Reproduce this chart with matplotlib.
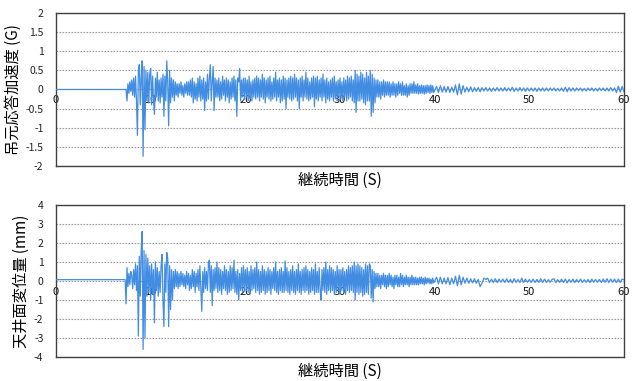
import numpy as np
import matplotlib
matplotlib.use("Agg")
import matplotlib.pyplot as plt

plt.rcParams['font.family'] = ['Noto Sans CJK JP', 'DejaVu Sans']

# --- data ---
quiet_t = [0.0, 7.3]
acc_quiet = [0.0, 0.0]
disp_quiet = [0.07, 0.07]

# 7.4 .. 39.9 s, every 0.1 s (one row per second)
acc_main = [
    0, -0.3, 0.15, -0.1, 0.2, -0.05,
    0.25, -0.15, 0.3, -0.2, 0.35, -0.3, -1.2, 0.5, 0.65, -0.4,
    0.3, 0.75, -1.75, 0.6, -1.05, 0.5, -0.3, 0.45, -0.35, 0.4,
    0.55, -0.4, 0.35, -0.3, -0.65, 0.3, -0.2, 0.45, -0.3, 0.25,
    -0.35, 0.3, -0.2, 0.4, -0.7, 0.35, -0.3, 0.75, 0.2, -0.95,
    0.5, -0.35, 0.3, -0.2, 0.25, -0.3, 0.2, -0.15, 0.15, -0.2,
    0.15, -0.1, 0.2, -0.15, 0.1, -0.2, 0.15, -0.1, 0.2, -0.15,
    0.2, -0.15, 0.25, -0.2, 0.3, -0.35, 0.2, -0.25, 0.15, -0.3,
    0.3, -0.2, 0.35, -0.3, 0.25, -0.25, 0.3, -0.55, 0.2, -0.3,
    0.4, -0.25, 0.3, 0.65, -0.3, 0.2, 0.6, -0.55, 0.3, -0.2,
    0.25, -0.2, 0.3, -0.3, 0.2, -0.25, 0.35, -0.15, 0.25, -0.3,
    0.3, -0.2, 0.25, -0.35, 0.2, -0.25, 0.3, -0.2, 0.35, -0.3,
    0.25, -0.7, 0.3, 0.2, 0.55, -0.3, 0.25, -0.2, 0.3, -0.25,
    0.3, -0.2, 0.25, -0.3, 0.35, -0.25, 0.2, -0.3, 0.25, -0.2,
    0.3, -0.25, 0.35, -0.2, 0.3, -0.3, 0.25, -0.2, 0.4, -0.25,
    0.3, -0.35, 0.25, -0.2, 0.3, -0.25, 0.35, -0.3, 0.2, -0.25,
    0.3, -0.2, 0.45, -0.3, 0.25, -0.2, 0.3, -0.35, 0.25, -0.3,
    0.35, -0.25, 0.3, -0.5, 0.25, -0.2, 0.3, -0.25, 0.35, -0.3,
    0.3, -0.25, 0.4, -0.2, 0.3, -0.3, 0.25, -0.5, 0.3, -0.2,
    0.35, -0.3, 0.25, -0.2, 0.45, -0.25, 0.3, -0.3, 0.2, -0.25,
    0.3, -0.2, 0.35, -0.45, 0.3, -0.25, 0.35, -0.3, 0.25, -0.2,
    0.3, -0.3, 0.4, -0.2, 0.25, -0.35, 0.3, -0.25, 0.2, -0.3,
    0.25, -0.2, 0.3, -0.3, 0.35, -0.25, 0.2, -0.3, 0.25, -0.2,
    0.3, -0.25, 0.2, -0.3, 0.3, -0.2, 0.25, -0.3, 0.35, -0.25,
    0.3, -0.2, 0.35, -0.3, 0.25, -0.35, 0.5, -0.6, 0.4, -0.3,
    0.35, -0.3, 0.45, -0.25, 0.4, -0.35, 0.3, -0.4, 0.45, -0.3,
    0.35, -0.3, 0.5, -0.7, 0.4, -0.6, 0.3, -0.35, 0.25, -0.2,
    0.25, -0.2, 0.2, -0.25, 0.2, -0.15, 0.25, -0.2, 0.2, -0.15,
    0.2, -0.15, 0.2, -0.2, 0.15, -0.15, 0.2, -0.15, 0.15, -0.2,
    0.15, -0.15, 0.2, -0.1, 0.15, -0.15, 0.2, -0.15, 0.1, -0.15,
    0.15, -0.2, 0.1, -0.15, 0.15, -0.1, 0.15, -0.1, 0.2, -0.1,
    0.12, -0.1, 0.15, -0.12, 0.1, -0.1, 0.12, -0.1, 0.1, -0.12,
    0.1, -0.1, 0.12, -0.08, 0.1, -0.1, 0.12, -0.08, 0.1, -0.08,
]

disp_main = [
    -1.2, 0.7, -0.3, 0.4, -0.2, 0.5,
    0.3, -0.4, 0.6, -0.2, 0.9, -0.5, 0.8, -2.9, 1.3, -0.8,
    1.6, 2.6, -3.6, 1.6, -3.0, 1.4, -0.8, 1.2, -0.6, 0.8,
    -1.0, 0.9, -0.7, 0.6, -2.2, 1.0, -0.5, 0.7, -0.8, 0.5,
    -0.6, 0.8, 1.4, -1.0, -2.4, 0.9, -0.6, 1.5, 1.2, -2.4,
    0.8, -1.5, 0.6, -1.0, 0.5, -0.4, 0.6, -0.3, 0.5, -0.4,
    0.4, -0.3, 0.5, -0.2, 0.4, -0.3, 0.3, -0.4, 0.5, -0.2,
    0.4, -0.5, 0.3, -0.4, 0.6, -0.3, 0.5, -0.6, 0.4, -0.3,
    0.6, -0.5, 0.8, -0.4, -1.6, 0.5, -0.6, 0.7, -0.4, 0.5,
    -0.5, 0.9, 1.1, -0.6, 0.8, -1.3, 0.6, -0.5, 0.7, -0.4,
    1.0, -0.6, 0.7, -0.5, 0.6, -0.7, 0.5, -0.4, 0.8, -0.5,
    0.6, -0.7, 0.5, -0.6, 0.8, -0.5, 0.7, -0.4, 1.1, -0.6,
    0.5, -0.7, 0.6, -1.0, 0.4, -0.5, 0.7, -0.6, 0.8, -0.5,
    0.6, -0.5, 0.7, -0.6, 0.5, -0.7, 0.8, -0.5, 0.6, -0.4,
    0.7, -0.6, 1.0, -0.5, 0.6, -0.7, 0.5, -0.6, 0.8, -0.5,
    0.6, -0.7, 0.5, -0.6, 0.7, -0.5, 0.6, -0.7, 0.5, -0.4,
    0.7, -0.5, 1.0, -0.6, 0.5, -0.7, 0.6, -0.5, 0.7, -0.6,
    0.5, -0.6, 1.05, -0.5, 0.7, -0.6, 0.5, -0.7, 0.6, -0.5,
    0.8, -0.6, 0.5, -0.7, 0.6, -0.5, 0.9, -0.6, 0.5, -0.7,
    0.6, -0.5, 0.7, -0.6, 0.8, -0.5, 0.6, -0.7, 0.5, -0.6,
    0.7, -0.5, 0.6, -0.7, 0.9, -0.6, 0.5, -0.6, 0.7, -0.5,
    -1.0, 0.6, -0.5, 0.7, -0.6, 1.0, -0.7, 0.6, -0.5, 0.8,
    -0.6, 0.7, -0.5, 0.6, -0.7, 0.5, -0.6, 0.8, -0.5, 0.6,
    -0.7, 0.6, -0.5, 0.7, -0.6, 0.5, -0.7, 0.6, -0.5, 0.8,
    -0.6, 0.7, -0.5, 0.8, -0.6, 1.0, -1.0, 0.8, -0.6, 0.9,
    -0.7, 0.8, -0.6, 0.7, -0.8, 0.6, -0.7, 0.9, -0.6, 0.8,
    -0.7, 0.9, 0.8, -0.9, 0.6, -1.1, 0.5, -0.4, 0.4, -0.3,
    0.4, -0.3, 0.3, -0.4, 0.3, -0.2, 0.4, -0.3, 0.3, -0.4,
    0.3, -0.3, 0.4, -0.2, 0.3, -0.3, 0.2, -0.4, 0.3, -0.2,
    0.3, -0.3, 0.2, -0.3, 0.4, -0.2, 0.3, -0.3, 0.2, -0.2,
    0.3, -0.2, 0.2, -0.3, 0.2, -0.2, 0.3, -0.2, 0.2, -0.2,
    0.2, -0.2, 0.15, -0.2, 0.2, -0.15, 0.2, -0.15, 0.15, -0.2,
    0.2, -0.15, 0.15, -0.1, 0.15, -0.15, 0.1, -0.15, 0.15, -0.1,
]

# 40.2 .. 60.0 s, every 0.2 s (one row per second)
acc_tail = [
    0.08, -0.08, 0.1, -0.07, 0.08,
    -0.07, 0.08, -0.08, 0.06, -0.07,
    0.12, -0.14, 0.15, -0.12, 0.1,
    -0.07, 0.06, -0.06, 0.07, -0.06,
    0.05, -0.05, 0.05, -0.06, 0.05,
    -0.04, 0.05, -0.04, 0.04, -0.05,
    0.04, -0.04, 0.05, -0.04, 0.04,
    -0.04, 0.05, -0.04, 0.04, -0.04,
    0.06, -0.05, 0.04, -0.04, 0.05,
    -0.04, 0.04, -0.05, 0.04, -0.04,
    0.04, -0.04, 0.04, -0.05, 0.04,
    -0.04, 0.04, -0.04, 0.04, -0.04,
    0.04, -0.03, 0.04, -0.04, 0.03,
    -0.04, 0.04, -0.05, 0.06, -0.06,
    0.05, -0.04, 0.04, -0.04, 0.04,
    -0.03, 0.04, -0.04, 0.03, -0.04,
    0.04, -0.03, 0.04, -0.04, 0.03,
    -0.04, 0.04, -0.03, 0.04, -0.04,
    0.04, -0.04, 0.05, -0.04, 0.04,
    -0.08, 0.09, -0.07, 0.08, -0.06,
]

disp_tail = [
    0.2, -0.15, 0.2, -0.15, 0.15,
    -0.15, 0.18, -0.2, 0.15, -0.15,
    0.25, -0.25, 0.3, -0.2, 0.2,
    -0.12, 0.15, -0.12, 0.12, -0.1,
    0.12, -0.12, 0.08, -0.3, -0.12,
    0.15, 0.08, 0.15, -0.08, 0.1,
    -0.08, 0.12, -0.08, 0.1, -0.07,
    0.1, -0.08, 0.12, -0.08, 0.08,
    -0.1, 0.12, -0.08, 0.08, -0.08,
    0.15, -0.08, 0.1, -0.07, 0.08,
    -0.08, 0.1, -0.08, 0.08, -0.07,
    0.12, -0.08, 0.1, -0.08, 0.07,
    -0.07, 0.08, 0.12, -0.08, 0.07,
    -0.07, 0.1, -0.08, 0.1, -0.1,
    0.08, -0.07, 0.1, -0.08, 0.08,
    -0.07, 0.1, -0.08, 0.07, -0.07,
    0.08, -0.08, 0.1, -0.07, 0.08,
    -0.07, 0.08, -0.08, 0.1, -0.07,
    0.12, -0.08, 0.1, -0.07, 0.1,
    -0.08, 0.1, -0.08, 0.1, 0.06,
]

x_ticks = [0, 10, 20, 30, 40, 50, 60]
xlabel = '継続時間 (S)'
panels = [
    ('吊元応答加速度 (G)', acc_quiet, acc_main, acc_tail, (-2, 2), np.arange(-2, 2.01, 0.5)),
    ('天井面変位量 (mm)', disp_quiet, disp_main, disp_tail, (-4, 4), np.arange(-4, 4.01, 1)),
]

t_main = np.linspace(7.4, 39.9, len(acc_main))
t_tail = np.linspace(40.2, 60.0, len(acc_tail))

fig = plt.figure(figsize=(6.4, 3.81), dpi=100)
rects = [[0.0875, 0.5643, 0.8875, 0.4016], [0.0875, 0.063, 0.8875, 0.399]]

for rect, (ylab, quiet, main, tail, ylim, yticks) in zip(rects, panels):
    ax = fig.add_axes(rect)
    t = np.concatenate([quiet_t, t_main, t_tail])
    y = np.concatenate([quiet, main, tail])
    ax.plot(t, y, color='#428de2', lw=0.9, zorder=3)

    ax.set_xlim(0, 60)
    ax.set_ylim(*ylim)
    ax.set_yticks(yticks)
    ax.set_yticklabels(['%g' % v for v in yticks])
    ax.tick_params(axis='y', length=0, pad=9, labelsize=7.5, colors='#222222')
    ax.set_xticks(x_ticks)
    ax.tick_params(axis='x', length=0, labelbottom=False)
    ax.grid(axis='y', color='#9a9a9a', linestyle=(0, (1.5, 1.2)), lw=0.8, zorder=1)
    for s in ax.spines.values():
        s.set_color('#404040')
        s.set_linewidth(1.0)

    sec = ax.secondary_xaxis(0.5)
    sec.set_alignment('bottom')
    sec.set_xticks(x_ticks)
    sec.tick_params(length=0, pad=4, labelsize=8, colors='#111111')
    for s in sec.spines.values():
        s.set_visible(False)

    ax.set_ylabel(ylab, fontsize=11, labelpad=3)
    ax.set_xlabel(xlabel, fontsize=11, labelpad=4)

fig.savefig('out.png', dpi=100)
